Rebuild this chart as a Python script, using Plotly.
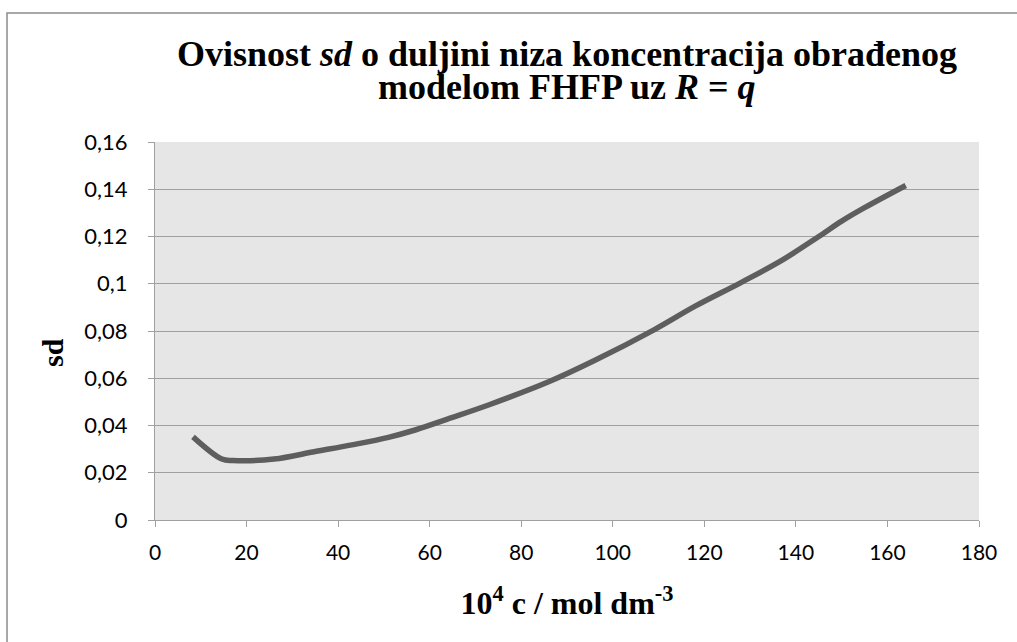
import plotly.graph_objects as go

# concentration (10^4 c / mol dm^-3) and sd values
conc = [8.3, 14.6, 17.0, 26.0, 35.0, 43.0, 51.0, 57.0, 64.0, 73.0, 86.0, 96.0,
        109.0, 118.0, 128.0, 137.0, 145.0, 150.0, 155.0, 164.0]
sd = [0.0352, 0.0258, 0.0252, 0.0258, 0.0290, 0.0318, 0.0350, 0.0382, 0.0428,
      0.0488, 0.0585, 0.0675, 0.0805, 0.0905, 0.1005, 0.1100, 0.1200, 0.1265,
      0.1322, 0.1416]

x_ticks = [0, 20, 40, 60, 80, 100, 120, 140, 160, 180]
y_ticks = [0, 0.02, 0.04, 0.06, 0.08, 0.1, 0.12, 0.14, 0.16]
y_labels = ["0", "0,02", "0,04", "0,06", "0,08", "0,1", "0,12", "0,14", "0,16"]

title_lines = ["<b>Ovisnost <i>sd</i> o duljini niza koncentracija obrađenog</b>",
               "<b>modelom FHFP uz <i>R</i> = <i>q</i></b>"]

W, H = 1017, 642
ml, mr, mt, mb = 155, 38, 142, 122
pw, ph = W - ml - mr, H - mt - mb


def px_x(px):
    return (px - ml) / pw


def px_y(py):
    return (mt + ph - py) / ph


fig = go.Figure()
fig.add_trace(go.Scatter(
    x=conc, y=sd, mode="lines",
    line=dict(color="#5e5e5e", width=5.5, shape="spline", smoothing=1.0),
    showlegend=False, hoverinfo="skip",
))

serif = "Liberation Serif, Times New Roman, serif"
sans = "Lato, Carlito, Calibri, sans-serif"

annotations = [
    dict(text=title_lines[0], showarrow=False, xref="paper", yref="paper",
         x=0.5, y=px_y(54), xanchor="center", yanchor="middle",
         font=dict(family=serif, size=36, color="black")),
    dict(text=title_lines[1], showarrow=False, xref="paper", yref="paper",
         x=0.5, y=px_y(87), xanchor="center", yanchor="middle",
         font=dict(family=serif, size=36, color="black")),
    dict(text="<b>sd</b>", textangle=-90, showarrow=False,
         xref="paper", yref="paper", x=px_x(52), y=px_y(353),
         xanchor="center", yanchor="middle",
         font=dict(family=serif, size=30, color="black")),
]

fig.update_layout(
    width=W, height=H,
    margin=dict(l=ml, r=mr, t=mt, b=mb),
    paper_bgcolor="white",
    plot_bgcolor="#e6e6e6",
    xaxis=dict(
        range=[0, 180], tickvals=x_ticks, ticktext=[str(v) for v in x_ticks],
        showgrid=False, zeroline=False,
        showline=True, linecolor="#a0a0a0", linewidth=1,
        ticks="outside", ticklen=6, tickcolor="#a0a0a0",
        ticklabelstandoff=8,
        tickfont=dict(family=sans, size=21, color="black"),
        title=dict(text="<b>10<sup>4</sup> c / mol dm<sup>-3</sup></b>",
                   font=dict(family=serif, size=32, color="black"), standoff=28),
    ),
    yaxis=dict(
        range=[0, 0.16], tickvals=y_ticks, ticktext=y_labels,
        showgrid=True, gridcolor="#a0a0a0", gridwidth=1, zeroline=False,
        showline=True, linecolor="#a0a0a0", linewidth=1,
        ticks="outside", ticklen=6, tickcolor="#a0a0a0",
        ticklabelstandoff=16,
        tickfont=dict(family=sans, size=22, color="black"),
    ),
    annotations=annotations,
    shapes=[dict(
        type="rect", xref="paper", yref="paper",
        x0=px_x(7), x1=px_x(W + 20),
        y0=px_y(H + 20), y1=px_y(13),
        line=dict(color="#8c8c8c", width=1.5), fillcolor="rgba(0,0,0,0)",
        layer="below",
    )],
)

fig.write_html("out.html",
               config={"displayModeBar": False},
               post_script="document.body.style.margin='0';"
                           "document.body.style.overflow='hidden';")
